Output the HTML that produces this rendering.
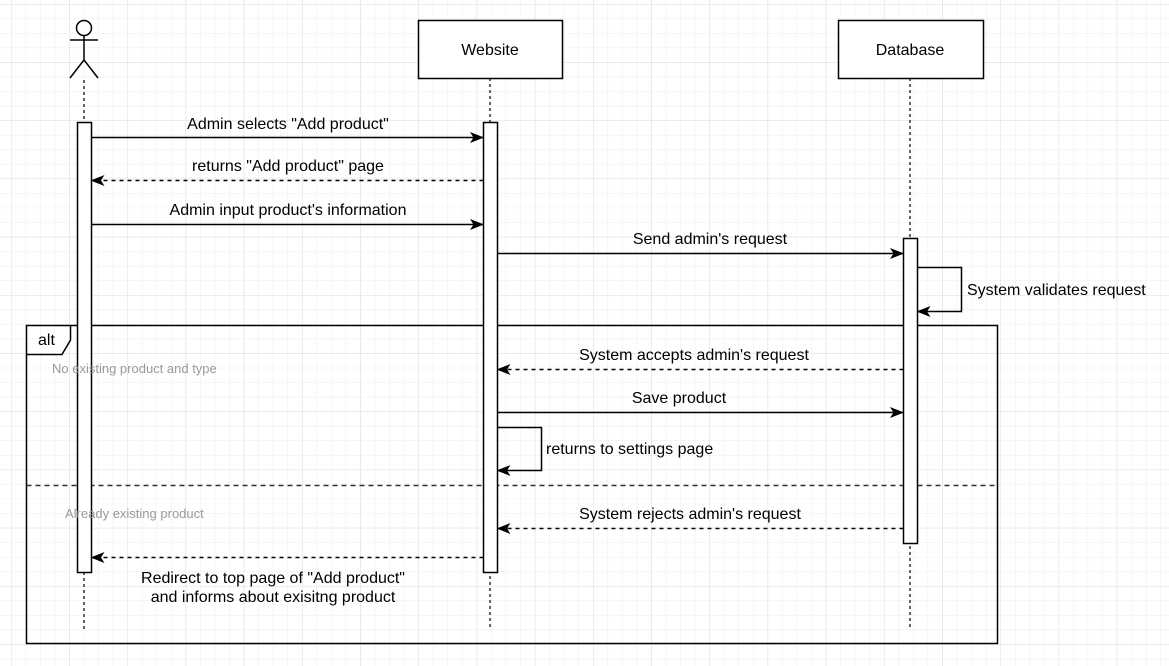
<!DOCTYPE html>
<html><head><meta charset="utf-8"><style>
html,body{margin:0;padding:0;background:#fff}
svg{display:block}
text{font-family:"Liberation Sans",Arial,sans-serif;font-size:16px;fill:#000}
.g{font-size:13px;fill:#999}
</style></head><body>
<svg width="1169" height="666" viewBox="0 0 1169 666" xmlns="http://www.w3.org/2000/svg">
<defs>
<pattern id="grid" x="11" y="4" width="14.55" height="14.55" patternUnits="userSpaceOnUse">
<path d="M0 0H14.55M0 0V14.55" stroke="#ececec" stroke-width="1" fill="none"/>
</pattern>
<pattern id="grid2" x="11" y="4" width="58.2" height="58.2" patternUnits="userSpaceOnUse">
<path d="M0 0H58.2M0 0V58.2" stroke="#dedede" stroke-width="1" fill="none"/>
</pattern>
<marker id="a" markerWidth="14" markerHeight="12" refX="13" refY="5.5" orient="auto" markerUnits="userSpaceOnUse">
<path d="M0 0L14 5.5L0 11L3.5 5.5z" fill="#000"/>
</marker>
</defs>
<rect width="1169" height="666" fill="url(#grid)"/>
<rect width="1169" height="666" fill="url(#grid2)"/>

<g stroke="#000" fill="none" stroke-width="1.5">
<circle cx="84" cy="28" r="7.5" fill="#fff"/>
<path d="M70 40H98M84 35.5V60L70 78M84 60L98 78"/>
<path d="M84 80V630M490 78V630M910 78V630" stroke-dasharray="3,3" stroke="#333"/>
<rect x="418.5" y="20.5" width="144" height="58" fill="#fff"/>
<rect x="838.5" y="20.5" width="145" height="58" fill="#fff"/>
<rect x="26.5" y="325.5" width="971" height="318"/>
<path d="M26.5 354.5H62L70.5 340V325.5" fill="#fff"/>
<path d="M26.5 485.5H997.5" stroke-dasharray="5,4" stroke="#333"/>
<rect x="77.5" y="122.5" width="14" height="450" fill="#fff"/>
<rect x="483.5" y="122.5" width="14" height="450" fill="#fff"/>
<rect x="903.5" y="238.5" width="14" height="305" fill="#fff"/>
<path d="M91.5 137.5H483" marker-end="url(#a)"/>
<path d="M483.5 180.5H91.5" stroke-dasharray="4,4" marker-end="url(#a)"/>
<path d="M91.5 224.5H483" marker-end="url(#a)"/>
<path d="M497.5 253.5H903" marker-end="url(#a)"/>
<path d="M917.5 267.5H961.5V311.5H917.5" marker-end="url(#a)"/>
<path d="M903.5 369.5H497.5" stroke-dasharray="4,4" marker-end="url(#a)"/>
<path d="M497.5 412.5H903" marker-end="url(#a)"/>
<path d="M497.5 427.5H541.5V470.5H497.5" marker-end="url(#a)"/>
<path d="M903.5 528.5H497.5" stroke-dasharray="4,4" marker-end="url(#a)"/>
<path d="M483.5 557.5H91.5" stroke-dasharray="4,4" marker-end="url(#a)"/>
</g>

<text x="490" y="55" text-anchor="middle">Website</text>
<text x="910" y="55" text-anchor="middle">Database</text>
<text x="38" y="345">alt</text>
<text class="g" x="52" y="373">No existing product and type</text>
<text class="g" x="65" y="518">Already existing product</text>

<text x="288" y="129" text-anchor="middle">Admin selects "Add product"</text>
<text x="288" y="171" text-anchor="middle">returns "Add product" page</text>
<text x="288" y="215" text-anchor="middle">Admin input product's information</text>
<text x="710" y="244" text-anchor="middle">Send admin's request</text>
<text x="967" y="295">System validates request</text>
<text x="694" y="360" text-anchor="middle">System accepts admin's request</text>
<text x="679" y="403" text-anchor="middle">Save product</text>
<text x="546" y="454">returns to settings page</text>
<text x="690" y="519" text-anchor="middle">System rejects admin's request</text>
<text x="273" y="583" text-anchor="middle">Redirect to top page of "Add product"</text>
<text x="273" y="602" text-anchor="middle">and informs about exisitng product</text>
</svg>
</body></html>
